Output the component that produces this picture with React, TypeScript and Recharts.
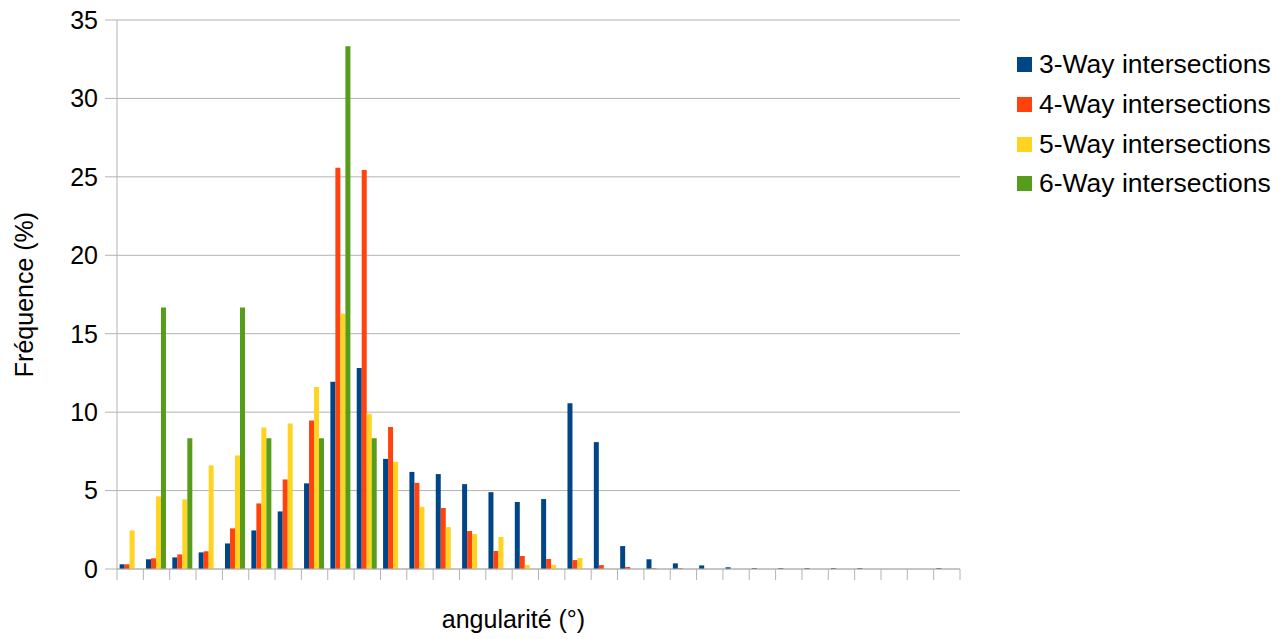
import { Bar, BarChart, CartesianGrid, Legend, XAxis, YAxis } from "recharts";

// bins of angularity (no labels drawn on the axis)
const bins = [
  "1", "2", "3", "4", "5", "6", "7", "8", "9", "10", "11", "12", "13", "14", "15", "16",
  "17", "18", "19", "20", "21", "22", "23", "24", "25", "26", "27", "28", "29", "30", "31", "32"
];

const way3 = [
  0.3, 0.62, 0.74, 1.06, 1.63, 2.46, 3.67, 5.46, 11.93, 12.81, 7.02, 6.19, 6.05, 5.41, 4.9, 4.27,
  4.46, 10.57, 8.09, 1.46, 0.62, 0.36, 0.23, 0.11, 0.05, 0.05, 0.05, 0.05, 0.05, 0, 0, 0.05
];
const way4 = [
  0.3, 0.68, 0.93, 1.13, 2.59, 4.18, 5.71, 9.47, 25.58, 25.44, 9.06, 5.49, 3.89, 2.42, 1.15, 0.83,
  0.64, 0.57, 0.25, 0.13, 0.05, 0.05, 0, 0, 0, 0, 0, 0, 0, 0, 0, 0
];
const way5 = [
  2.46, 4.63, 4.44, 6.6, 7.24, 9.02, 9.28, 11.6, 16.27, 9.89, 6.83, 3.96, 2.68, 2.23, 2.04, 0.25,
  0.25, 0.7, 0, 0, 0, 0, 0, 0, 0, 0, 0, 0, 0, 0, 0, 0
];
const way6 = [
  0, 16.67, 8.33, 0, 16.67, 8.33, 0, 8.33, 33.33, 8.33, 0, 0, 0, 0, 0, 0,
  0, 0, 0, 0, 0, 0, 0, 0, 0, 0, 0, 0, 0, 0, 0, 0
];
const yTicks = [0, 5, 10, 15, 20, 25, 30, 35];

const data = bins.map((bin, i) => ({
  bin,
  w3: way3[i],
  w4: way4[i],
  w5: way5[i],
  w6: way6[i]
}));

const GRAY = "#b3b3b3";
const FONT = '"Liberation Sans", Arial, sans-serif';
const CHART_W = 1277;
const MARGIN = { top: 12, right: 325, bottom: 0, left: 0 };
const Y_W = 109;
const PLOT_W = CHART_W - MARGIN.right - MARGIN.left - Y_W;
const BAND = PLOT_W / bins.length;

// tick marks sit on the bin edges, not on the bin centres
const EdgeTick = (props: any) => {
  const { x, y, index } = props;
  const left = x - BAND / 2;
  const right = x + BAND / 2;
  return (
    <g>
      <line x1={left} x2={left} y1={y} y2={y + 11} stroke={GRAY} />
      {index === bins.length - 1 && <line x1={right} x2={right} y1={y} y2={y + 11} stroke={GRAY} />}
    </g>
  );
};

const LegendBox = (props: any) => {
  const { payload } = props;
  return (
    <div style={{ fontFamily: FONT, fontSize: 26.5, color: "#000" }}>
      {(payload || []).map((p: any) => (
        <div
          key={p.value}
          style={{ height: 39.7, display: "flex", alignItems: "center", whiteSpace: "nowrap" }}
        >
          <span
            style={{ width: 15, height: 15, background: p.color, display: "inline-block", marginRight: 7 }}
          />
          <span>{p.value}</span>
        </div>
      ))}
    </div>
  );
};

const App = () => {
  return (
    <div style={{ fontFamily: FONT }}>
      <BarChart
        width={CHART_W}
        height={631}
        data={data}
        margin={MARGIN}
        barCategoryGap="10%"
        barGap={0}
      >
        <CartesianGrid vertical={false} stroke={GRAY} strokeWidth={1} />
        <XAxis
          dataKey="bin"
          height={70}
          interval={0}
          tickSize={0}
          tickMargin={0}
          tickLine={false}
          axisLine={{ stroke: GRAY }}
          tick={<EdgeTick />}
          label={{
            content: (p: any) => {
              const vb = p.viewBox;
              return (
                <text
                  x={vb.x + vb.width / 2 - 25}
                  y={vb.y + 59}
                  textAnchor="middle"
                  fontSize={25}
                  fontFamily={FONT}
                  fill="#000"
                >
                  angularité (°)
                </text>
              );
            }
          }}
        />
        <YAxis
          width={Y_W}
          domain={[0, 35]}
          ticks={yTicks}
          interval={0}
          tickSize={12}
          tickMargin={7}
          axisLine={{ stroke: GRAY }}
          tickLine={{ stroke: GRAY }}
          tick={{ fill: "#000", fontSize: 25, fontFamily: FONT }}
          label={{
            content: (p: any) => {
              const vb = p.viewBox;
              const cx = 25;
              const cy = vb.y + vb.height / 2;
              return (
                <text
                  x={cx}
                  y={cy}
                  transform={`rotate(-90, ${cx}, ${cy})`}
                  textAnchor="middle"
                  fontSize={25}
                  fontFamily={FONT}
                  fill="#000"
                >
                  Fréquence (%)
                </text>
              );
            }
          }}
        />
        <YAxis
          yAxisId="r"
          orientation="right"
          width={0}
          domain={[0, 35]}
          tick={false}
          tickLine={false}
          axisLine={{ stroke: GRAY }}
        />
        <Legend
          layout="horizontal"
          align="center"
          verticalAlign="middle"
          width={275}
          wrapperStyle={{ top: 37, left: 1009 }}
          content={<LegendBox />}
        />
        <Bar dataKey="w3" name="3-Way intersections" fill="#004586" isAnimationActive={false} />
        <Bar dataKey="w4" name="4-Way intersections" fill="#ff420e" isAnimationActive={false} />
        <Bar dataKey="w5" name="5-Way intersections" fill="#ffd320" isAnimationActive={false} />
        <Bar dataKey="w6" name="6-Way intersections" fill="#579d1c" isAnimationActive={false} />
      </BarChart>
    </div>
  );
};

export default App;
